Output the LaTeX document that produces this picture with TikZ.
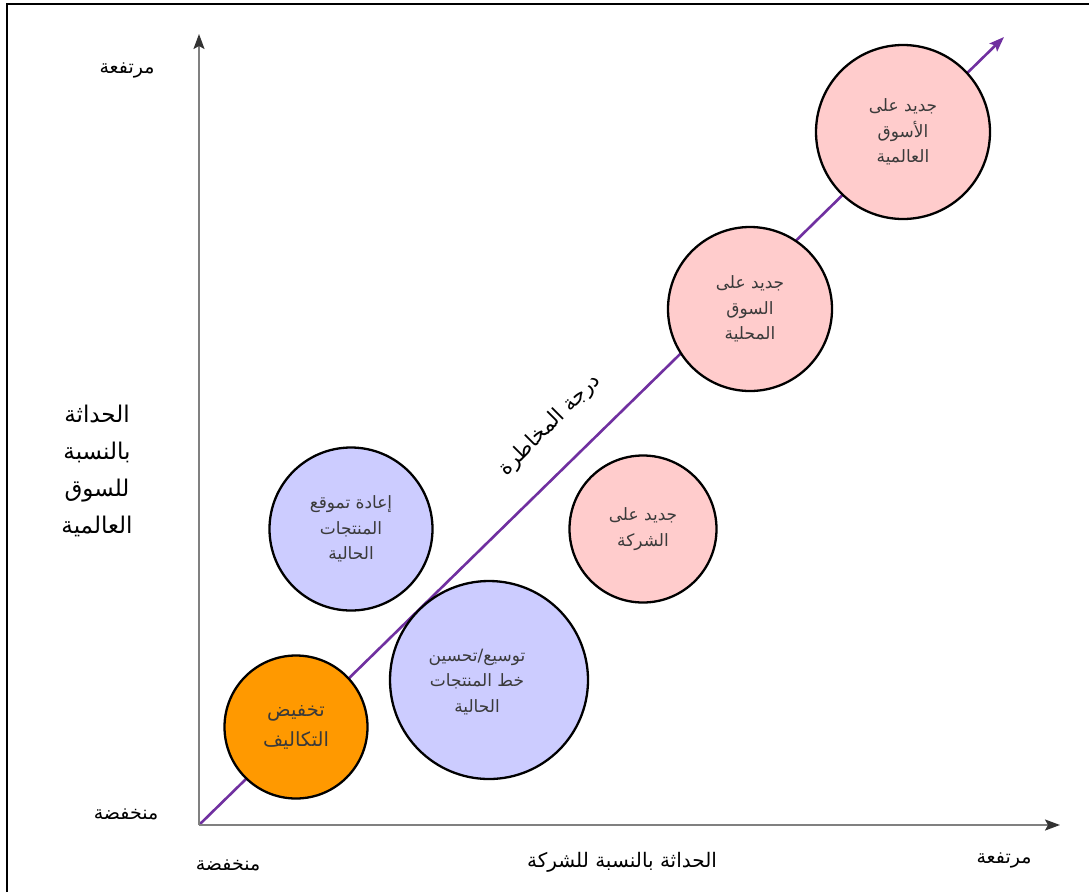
\documentclass[tikz,border=0pt]{standalone}
\usepackage{fontspec}
\usetikzlibrary{arrows.meta}
\TeXXeTstate=1
\newfontfamily\arabicfont[Script=Arabic]{DejaVu Sans}
\newcommand\artext[1]{{\arabicfont\beginR #1\endR}}
\definecolor{axisgray}{HTML}{808080}
\definecolor{riskpurple}{HTML}{7030A0}
\definecolor{pinkfill}{HTML}{FFCCCC}
\definecolor{bluefill}{HTML}{CCCCFF}
\definecolor{orangefill}{HTML}{FF9900}
\definecolor{bubbletext}{HTML}{3A3A3A}

\begin{document}
\begin{tikzpicture}[x=1pt,y=-1pt,
  axisline/.style={draw=axisgray,line width=2pt,
    -{Stealth[length=15pt,width=11pt,inset=3pt,color=black!80]}},
  riskline/.style={draw=riskpurple,line width=2.6pt,
    -{Stealth[length=15pt,width=11pt,inset=3pt]}},
  bubble/.style={circle,draw=black,line width=2.3pt,inner sep=0pt,
    align=center,text=bubbletext,font=\fontsize{17}{25.5}\selectfont},
  ticklabel/.style={font=\fontsize{19}{22}\selectfont,inner sep=0pt},
  axistitle/.style={font=\fontsize{20}{37}\selectfont,align=center,inner sep=0pt}
]
\useasboundingbox (0,0) rectangle (1089,892);
\fill[white] (0,0) rectangle (1089,892);

% outer frame (only top and left edges fall inside the page)
\draw[black,line width=2pt] (7,892) -- (7,4) -- (1089,4);

% axes and the risk diagonal
\coordinate (O) at (199,825);
\coordinate (ytip) at (199,34);
\coordinate (xtip) at (1060,825);
\coordinate (rtip) at (1004,37);
\draw[riskline] (O) -- (rtip);
\draw[axisline] (O) -- (ytip);
\draw[axisline] (O) -- (xtip);

% bubbles
\node[bubble,fill=orangefill,minimum size=143pt,font=\fontsize{19.5}{30}\selectfont]
  (cost) at (296,727) {\artext{تخفيض}\\\artext{التكاليف}};
\node[bubble,fill=bluefill,minimum size=198pt]
  (extend) at (489,680) {};
\node[align=center,text=bubbletext,font=\fontsize{17}{25.5}\selectfont,inner sep=0pt]
  (extendtext) at (477,682) {\artext{توسيع/تحسين}\\\artext{خط المنتجات}\\\artext{الحالية}};
\node[bubble,fill=bluefill,minimum size=163pt]
  (reposition) at (351,529) {\artext{إعادة تموقع}\\\artext{المنتجات}\\\artext{الحالية}};
\node[bubble,fill=pinkfill,minimum size=147pt]
  (newfirm) at (643,529) {\artext{جديد على}\\\artext{الشركة}};
\node[bubble,fill=pinkfill,minimum size=164pt]
  (newlocal) at (750,309) {\artext{جديد على}\\\artext{السوق}\\\artext{المحلية}};
\node[bubble,fill=pinkfill,minimum size=174pt]
  (newglobal) at (903,132) {\artext{جديد على}\\\artext{الأسوق}\\\artext{العالمية}};

% axis labels
\node[ticklabel] (yhigh) at (127,70) {\artext{مرتفعة}};
\node[ticklabel] (ylow) at (126,814) {\artext{منخفضة}};
\node[ticklabel] (xlow) at (228,865) {\artext{منخفضة}};
\node[ticklabel] (xhigh) at (1004,860) {\artext{مرتفعة}};
\node[axistitle,font=\fontsize{23}{37}\selectfont] (ytitle) at (97,471)
  {\artext{الحداثة}\\\artext{بالنسبة}\\\artext{للسوق}\\\artext{العالمية}};
\node[axistitle] (xtitle) at (622,862) {\artext{الحداثة بالنسبة للشركة}};
\node[axistitle,font=\fontsize{21}{25}\selectfont,rotate=45] (risk) at (550,425) {\artext{درجة المخاطرة}};
\end{tikzpicture}
\end{document}
